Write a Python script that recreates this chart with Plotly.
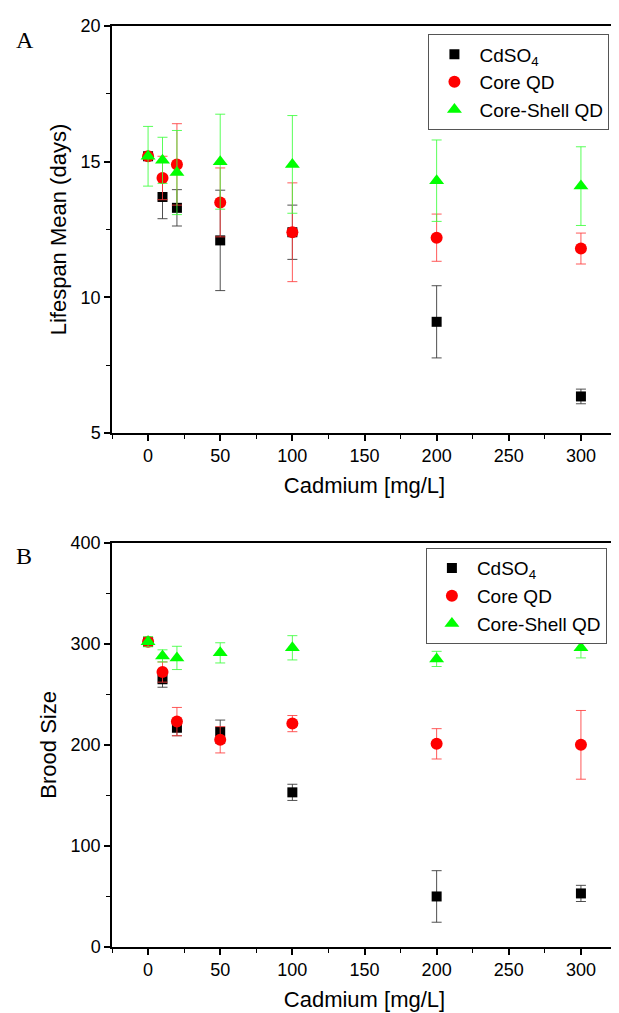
import plotly.graph_objects as go

# concentrations (mg/L)
cadmium = [0, 10, 20, 50, 100, 200, 300]

# Panel A: lifespan mean (days)
life_cdso4 = [15.2, 13.7, 13.3, 12.1, 12.4, 9.1, 6.35]
life_cdso4_err = [0.1, 0.8, 0.67, 1.85, 1.0, 1.33, 0.27]
life_core = [15.2, 14.4, 14.9, 13.5, 12.4, 12.2, 11.8]
life_core_err = [0.1, 0.8, 1.5, 1.27, 1.82, 0.87, 0.57]
life_shell = [15.2, 15.05, 14.6, 15.0, 14.9, 14.3, 14.1]
life_shell_err = [1.1, 0.85, 1.55, 1.75, 1.8, 1.5, 1.45]

# Panel B: brood size
brood_cdso4 = [302, 265, 217, 213, 153, 50, 53]
brood_cdso4_err = [4, 8, 8, 11.5, 8, 25.5, 8]
brood_core = [302, 272, 223, 205, 221, 201, 200]
brood_core_err = [4, 10, 14, 13, 8, 15, 34]
brood_shell = [302, 288, 286, 291, 296, 285, 296]
brood_shell_err = [5, 6, 11.5, 10, 12, 7.5, 10]

FONT = "Liberation Sans, Arial, sans-serif"

series = [
    ("CdSO<sub>4</sub>", "square", "black", "rgba(60,60,60,0.9)", 10),
    ("Core QD", "circle", "#ff0000", "rgba(255,60,60,0.85)", 12),
    ("Core-Shell QD", "triangle-up", "#00ff00", "rgba(60,255,60,0.85)", 13),
]

fig = go.Figure()


def add_panel(values, errors, xa, ya, legend):
    for (name, symbol, color, ecolor, size), y, e in zip(series, values, errors):
        fig.add_trace(go.Scatter(
            x=cadmium, y=y, mode='markers', name=name,
            marker=dict(symbol=symbol, color=color, size=size, line=dict(width=0)),
            error_y=dict(type='data', array=e, visible=True, color=ecolor,
                         thickness=1, width=5),
            xaxis=xa, yaxis=ya, legend=legend
        ))


add_panel([life_cdso4, life_core, life_shell],
          [life_cdso4_err, life_core_err, life_shell_err], 'x', 'y', 'legend')
add_panel([brood_cdso4, brood_core, brood_shell],
          [brood_cdso4_err, brood_core_err, brood_shell_err], 'x2', 'y2', 'legend2')

axis_style = dict(
    showline=True, linecolor='black', linewidth=1.5, mirror=True,
    ticks='outside', ticklen=6, tickwidth=1.5, tickcolor='black',
    showgrid=False, zeroline=False,
    tickfont=dict(family=FONT, size=18, color='black'),
    title_font=dict(family=FONT, size=22, color='black'),
)
xminor = dict(dtick=25, ticks='outside', ticklen=4, tickwidth=1, tickcolor='black')

legend_style = dict(
    bgcolor='white', bordercolor='#555555', borderwidth=1,
    font=dict(family=FONT, size=19, color='black'),
    xanchor='right', yanchor='top', tracegroupgap=0, itemwidth=40,
)

fig.update_layout(
    width=619, height=1013,
    margin=dict(l=104, r=8, t=14, b=74),
    paper_bgcolor='white', plot_bgcolor='white',
    xaxis=dict(axis_style, domain=[0, 1], range=[-25, 325], dtick=50,
               minor=xminor, anchor='y',
               title=dict(text='Cadmium [mg/L]', standoff=12)),
    yaxis=dict(axis_style, domain=[0.558, 1.0], range=[5, 20], dtick=5,
               minor=dict(dtick=2.5, ticks='outside', ticklen=4, tickwidth=1, tickcolor='black'),
               anchor='x', title=dict(text='Lifespan Mean (days)', standoff=8)),
    xaxis2=dict(axis_style, domain=[0, 1], range=[-25, 325], dtick=50,
                minor=xminor, anchor='y2',
                title=dict(text='Cadmium [mg/L]', standoff=12)),
    yaxis2=dict(axis_style, domain=[0, 0.439], range=[0, 400], dtick=100,
                minor=dict(dtick=50, ticks='outside', ticklen=4, tickwidth=1, tickcolor='black'),
                anchor='x2', title=dict(text='Brood Size', standoff=8)),
    legend=dict(legend_style, x=0.985, y=0.991),
    legend2=dict(legend_style, x=0.98, y=0.433),
    showlegend=True,
)

for label, ypos in [("A", 0.985), ("B", 0.424)]:
    fig.add_annotation(text=label, xref='paper', yref='paper', x=-0.195, y=ypos,
                       xanchor='left', yanchor='middle', showarrow=False,
                       font=dict(family="Liberation Serif, Times New Roman, serif",
                                 size=24, color='black'))

fig.write_html("out.html")
